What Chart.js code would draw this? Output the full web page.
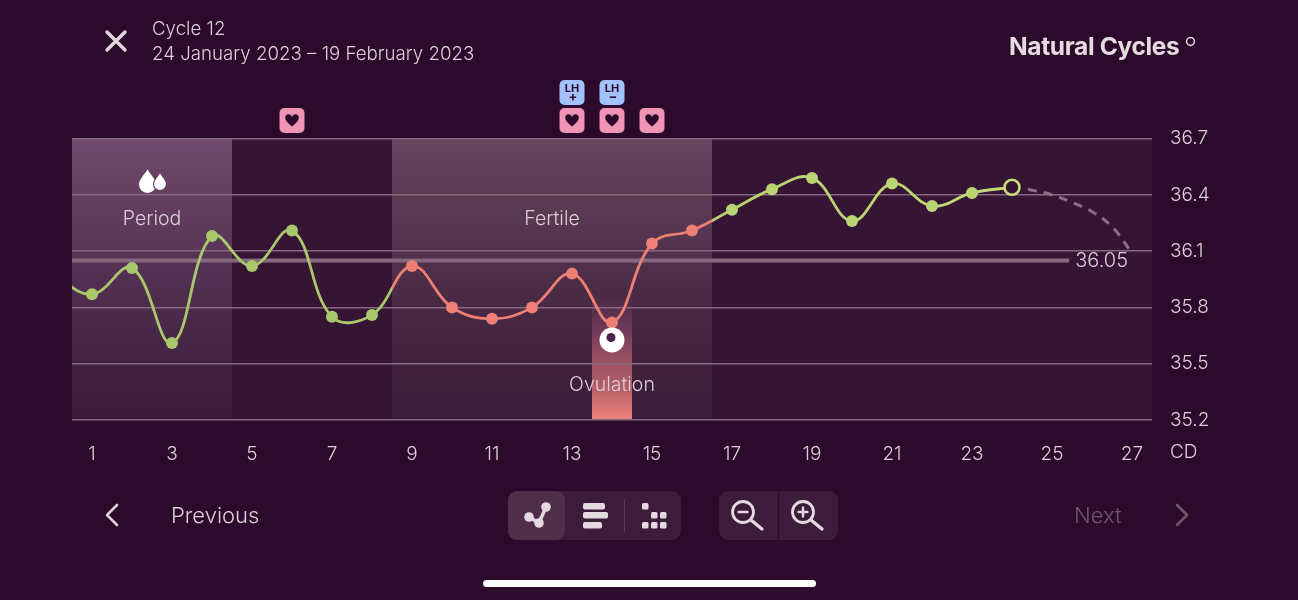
<!DOCTYPE html>
<html>
<head>
<meta charset="utf-8">
<title>Cycle 12</title>
<script src="https://cdn.jsdelivr.net/npm/chart.js@4"></script>
<style>
    html, body { margin: 0; width: 1298px; height: 600px; overflow: hidden; background: #2b0a2b; }
    body { position: relative; font-family: "Inter", sans-serif; font-weight: 300; color: #dccfd6; }
    #temp-chart { position: absolute; left: 0; top: 0; }
    .txt { position: absolute; white-space: nowrap; }
    .panel { position: absolute; background: #3d1c3b; border-radius: 9px; }
    svg { position: absolute; overflow: visible; }
</style>
</head>
<body>
<canvas id="temp-chart" width="1298" height="600"></canvas>

<!-- Header -->
<svg style="left:105px;top:30px" width="22" height="22"><path d="M2 2L20 20M20 2L2 20" stroke="#e4d9df" stroke-width="3.4" stroke-linecap="round"/></svg>
<div class="txt" style="left:152px;top:17px;font-size:18.7px;line-height:24px">Cycle 12</div>
<div class="txt" style="left:152px;top:42px;font-size:18.7px;line-height:24px">24 January 2023 – 19 February 2023</div>
<div class="txt" style="left:1009px;top:32px;font-size:24.5px;line-height:28px;font-weight:700;letter-spacing:-0.35px;color:#e6dce0">Natural Cycles</div>
<svg style="left:1185px;top:36px" width="10" height="10"><circle cx="5.5" cy="5.5" r="3.9" fill="none" stroke="#e6dce0" stroke-width="1.5"/></svg>

<!-- Footer controls -->
<svg style="left:104px;top:503px" width="16" height="24"><path d="M13 2L3 12L13 22" fill="none" stroke="#dccfd6" stroke-width="2.6" stroke-linecap="round" stroke-linejoin="round"/></svg>
<div class="txt" style="left:171px;top:501px;font-size:22px;line-height:28px">Previous</div>

<div class="panel" style="left:508px;top:491px;width:173px;height:49px"></div>
<div class="panel" style="left:508px;top:491px;width:57px;height:49px;background:#4e2e49"></div>
<div class="panel" style="left:624px;top:499px;width:1px;height:33px;border-radius:0;background:#5a3b55"></div>
<svg style="left:508px;top:491px" width="173" height="49">
    <path d="M21 26L31 32L38 16" fill="none" stroke="#e4d9df" stroke-width="3.4"/>
    <circle cx="21" cy="26" r="4.8" fill="#e4d9df"/><circle cx="31" cy="32" r="4.8" fill="#e4d9df"/><circle cx="38" cy="16" r="4.8" fill="#e4d9df"/>
    <rect x="75" y="12" width="22" height="6.5" rx="2" fill="#e4d9df"/><rect x="75" y="21" width="25" height="6.5" rx="2" fill="#e4d9df"/><rect x="75" y="31" width="19" height="6.5" rx="2" fill="#e4d9df"/>
    <rect x="134" y="12" width="6.5" height="6.5" rx="1.5" fill="#e4d9df"/>
    <rect x="143" y="21" width="6.5" height="6.5" rx="1.5" fill="#e4d9df"/><rect x="152" y="21" width="6.5" height="6.5" rx="1.5" fill="#e4d9df"/>
    <rect x="134" y="31" width="6.5" height="6.5" rx="1.5" fill="#e4d9df"/><rect x="143" y="31" width="6.5" height="6.5" rx="1.5" fill="#e4d9df"/><rect x="152" y="31" width="6.5" height="6.5" rx="1.5" fill="#e4d9df"/>
</svg>

<div class="panel" style="left:719px;top:491px;width:119px;height:49px"></div>
<div class="panel" style="left:778px;top:491px;width:1px;height:49px;border-radius:0;background:#2b0a2b"></div>
<svg style="left:719px;top:491px" width="119" height="49">
    <circle cx="24" cy="21" r="10.5" fill="none" stroke="#e4d9df" stroke-width="2.8"/><path d="M32 29L43 38" stroke="#e4d9df" stroke-width="3.4" stroke-linecap="round"/><path d="M19.5 21H28.5" stroke="#e4d9df" stroke-width="2.4" stroke-linecap="round"/>
    <circle cx="84" cy="21" r="10.5" fill="none" stroke="#e4d9df" stroke-width="2.8"/><path d="M92 29L103 38" stroke="#e4d9df" stroke-width="3.4" stroke-linecap="round"/><path d="M79.5 21H88.5M84 16.5V25.5" stroke="#e4d9df" stroke-width="2.4" stroke-linecap="round"/>
</svg>

<div class="txt" style="left:1074px;top:501px;font-size:22px;line-height:28px;color:#6f566c">Next</div>
<svg style="left:1174px;top:503px" width="16" height="24"><path d="M3 2L13 12L3 22" fill="none" stroke="#6f566c" stroke-width="2.6" stroke-linecap="round" stroke-linejoin="round"/></svg>

<div class="panel" style="left:483px;top:580px;width:333px;height:7px;background:#fff;border-radius:4px"></div>

<script>
// Chart data
const days = [0, 1, 2, 3, 4, 5, 6, 7, 8, 9, 10, 11, 12, 13, 14, 15, 16, 17, 18, 19, 20, 21, 22, 23, 24];
const temps = [35.98, 35.87, 36.01, 35.61, 36.18, 36.02, 36.21, 35.75, 35.76, 36.02, 35.80, 35.74, 35.80, 35.98, 35.72, 36.14, 36.21, 36.32, 36.43, 36.49, 36.26, 36.46, 36.34, 36.41, 36.44];
const predictedDays = [24.4, 25, 25.5, 26, 26.5, 27];
const predictedTemps = [36.43, 36.40, 36.36, 36.31, 36.23, 36.09];
const meanTemp = 36.05;
const meanLineDays = [0.5, 25.43];
const xTicks = [1, 3, 5, 7, 9, 11, 13, 15, 17, 19, 21, 23, 25, 27];
const yTicks = [35.2, 35.5, 35.8, 36.1, 36.4, 36.7];
const periodDays = [1, 4];
const fertileDays = [9, 16];
const ovulationDay = 14;
const heartDays = [6, 13, 14, 15];
const lhPlusDay = 13;
const lhMinusDay = 14;

const green = '#a9c76b';
const greenLight = '#c8de7b';
const salmon = '#ee7f74';
const textColor = '#dccfd6';
const labelFont = '300 19.5px Inter, sans-serif';

function isFertile(day) {
    return day >= fertileDays[0] && day <= fertileDays[1];
}

function pointColor(day) {
    if (isFertile(day)) return salmon;
    return day > fertileDays[1] ? '#bbd473' : green;
}

// Line colour changes at the edges of the fertile window
function lineGradient(context) {
    const chart = context.chart;
    if (!chart.chartArea) return green;
    const x = chart.scales.x;
    const span = x.right - x.left;
    const start = (x.getPixelForValue(fertileDays[0] - 0.5) - x.left) / span;
    const end = (x.getPixelForValue(fertileDays[1] + 0.5) - x.left) / span;
    const gradient = chart.ctx.createLinearGradient(x.left, 0, x.right, 0);
    gradient.addColorStop(0, green);
    gradient.addColorStop(start, green);
    gradient.addColorStop(start, salmon);
    gradient.addColorStop(end, salmon);
    gradient.addColorStop(end, '#b4d06f');
    gradient.addColorStop(1, greenLight);
    return gradient;
}

function verticalGradient(ctx, area, stops) {
    const gradient = ctx.createLinearGradient(0, area.top, 0, area.bottom);
    stops.forEach(stop => gradient.addColorStop(stop[0], stop[1]));
    return gradient;
}

function fillDays(chart, fromDay, toDay, style) {
    const x = chart.scales.x;
    const area = chart.chartArea;
    const left = x.getPixelForValue(fromDay - 0.5);
    const right = x.getPixelForValue(toDay + 0.5);
    chart.ctx.fillStyle = style;
    chart.ctx.fillRect(left, area.top, right - left, area.bottom - area.top);
}

// Phase bands sit under the grid lines
const bandsPlugin = {
    id: 'bands',
    beforeDraw(chart) {
        const ctx = chart.ctx;
        const area = chart.chartArea;
        ctx.save();
        fillDays(chart, 1, 27, '#361534');
        fillDays(chart, periodDays[0], periodDays[1], verticalGradient(ctx, area, [[0, '#704a6c'], [0.55, '#4f2d4e'], [1, '#381a38']]));
        fillDays(chart, fertileDays[0], fertileDays[1], verticalGradient(ctx, area, [[0, '#66465e'], [0.55, '#4a2a45'], [1, '#391c38']]));
        fillDays(chart, ovulationDay, ovulationDay, verticalGradient(ctx, area, [[0.55, 'rgba(125,60,105,0)'], [0.75, '#8e4a62'], [0.9, '#bb6269'], [1, '#f0857c']]));
        ctx.restore();
    }
};

function drawBadge(ctx, cx, top, color) {
    ctx.fillStyle = color;
    ctx.beginPath();
    ctx.roundRect(cx - 12.5, top, 25, 25, 5);
    ctx.fill();
}

function drawHeart(ctx, cx, cy) {
    ctx.fillStyle = '#2b0a2b';
    ctx.beginPath();
    ctx.moveTo(cx, cy + 6.5);
    ctx.bezierCurveTo(cx - 4.5, cy + 3, cx - 6.8, cy + 0.5, cx - 6.8, cy - 2.2);
    ctx.bezierCurveTo(cx - 6.8, cy - 6.5, cx - 2, cy - 7, cx, cy - 3.3);
    ctx.bezierCurveTo(cx + 2, cy - 7, cx + 6.8, cy - 6.5, cx + 6.8, cy - 2.2);
    ctx.bezierCurveTo(cx + 6.8, cy + 0.5, cx + 4.5, cy + 3, cx, cy + 6.5);
    ctx.fill();
}

function drawDrop(ctx, cx, bottom, r, outline) {
    ctx.fillStyle = '#ffffff';
    ctx.beginPath();
    ctx.moveTo(cx, bottom - r * 2.8);
    ctx.bezierCurveTo(cx + r * 0.4, bottom - r * 2.1, cx + r, bottom - r * 1.6, cx + r, bottom - r);
    ctx.arc(cx, bottom - r, r, 0, Math.PI);
    ctx.bezierCurveTo(cx - r, bottom - r * 1.6, cx - r * 0.4, bottom - r * 2.1, cx, bottom - r * 2.8);
    if (outline) {
        ctx.strokeStyle = outline;
        ctx.lineWidth = 2;
        ctx.stroke();
    }
    ctx.fill();
}

// Labels and icons tied to days and temperatures
const annotationsPlugin = {
    id: 'annotations',
    afterDraw(chart) {
        const ctx = chart.ctx;
        const x = chart.scales.x;
        const y = chart.scales.y;
        ctx.save();
        ctx.textBaseline = 'middle';
        ctx.textAlign = 'center';
        ctx.font = labelFont;
        ctx.fillStyle = textColor;

        const periodX = x.getPixelForValue((periodDays[0] + periodDays[1]) / 2);
        const fertileX = x.getPixelForValue((fertileDays[0] + fertileDays[1]) / 2);
        const ovulationX = x.getPixelForValue(ovulationDay);
        ctx.fillText('Period', periodX, 219);
        ctx.fillText('Fertile', fertileX, 219);
        ctx.fillText('Ovulation', ovulationX, 385);

        // Mean temperature value and axis name
        ctx.textAlign = 'left';
        ctx.font = '300 20px Inter, sans-serif';
        ctx.fillText(String(meanTemp), x.getPixelForValue(meanLineDays[1]) + 6, y.getPixelForValue(meanTemp) + 1);
        ctx.font = '300 19px Inter, sans-serif';
        ctx.fillText('CD', 1170, 452);

        // Period drops
        drawDrop(ctx, periodX - 4.5, 193, 8.5);
        drawDrop(ctx, periodX + 8, 190, 6, '#5c3958');

        // Ovulation marker
        ctx.fillStyle = '#ffffff';
        ctx.beginPath();
        ctx.arc(ovulationX, 340, 12.5, 0, Math.PI * 2);
        ctx.fill();
        ctx.fillStyle = '#4a2147';
        ctx.beginPath();
        ctx.arc(ovulationX - 1, 337.5, 4.5, 0, Math.PI * 2);
        ctx.fill();

        // Hearts above the plot
        heartDays.forEach(day => {
            const cx = x.getPixelForValue(day);
            drawBadge(ctx, cx, 108, '#ef94b6');
            drawHeart(ctx, cx, 120);
        });

        // LH test badges
        [[lhPlusDay, '+'], [lhMinusDay, '−']].forEach(item => {
            const cx = x.getPixelForValue(item[0]);
            drawBadge(ctx, cx, 80, '#a3c2fb');
            ctx.fillStyle = '#2b0a2b';
            ctx.textAlign = 'center';
            ctx.font = '700 11px Inter, sans-serif';
            ctx.fillText('LH', cx, 88.5);
            ctx.font = '700 13px Inter, sans-serif';
            ctx.fillText(item[1], cx + 1, 97);
        });
        ctx.restore();
    }
};

// Initialize Chart.js
function initializeChart() {
    const ctx = document.getElementById('temp-chart').getContext('2d');

    return new Chart(ctx, {
        type: 'line',
        data: {
            datasets: [
                {
                    label: 'Temperature',
                    data: days.map((day, i) => ({ x: day, y: temps[i] })),
                    order: 1,
                    borderColor: lineGradient,
                    borderWidth: 2.8,
                    tension: 0.4,
                    pointRadius: c => (c.raw.x === 0 ? 0 : c.raw.x === 24 ? 7.5 : 6),
                    pointBorderWidth: c => (c.raw.x === 24 ? 2.6 : 0),
                    pointBorderColor: greenLight,
                    pointBackgroundColor: c => (c.raw.x === 24 ? '#361534' : pointColor(c.raw.x))
                },
                {
                    label: 'Predicted',
                    data: predictedDays.map((day, i) => ({ x: day, y: predictedTemps[i] })),
                    order: 2,
                    borderColor: '#8a6e86',
                    borderWidth: 3,
                    borderDash: [9, 7],
                    tension: 0.4,
                    pointRadius: 0
                },
                {
                    label: 'Mean',
                    data: meanLineDays.map(day => ({ x: day, y: meanTemp })),
                    order: 3,
                    borderColor: '#85697f',
                    borderWidth: 4,
                    pointRadius: 0
                }
            ]
        },
        options: {
            responsive: false,
            animation: false,
            layout: { padding: { left: 72, top: 138.5, right: 0, bottom: 0 } },
            plugins: {
                legend: { display: false },
                tooltip: { enabled: false }
            },
            scales: {
                x: {
                    type: 'linear',
                    min: 0.5,
                    max: 27.5,
                    grid: { display: false },
                    border: { display: false },
                    afterBuildTicks: axis => { axis.ticks = xTicks.map(value => ({ value })); },
                    afterFit: axis => { axis.height = 180; },
                    ticks: {
                        color: textColor,
                        font: { family: 'Inter', size: 19, weight: '300' },
                        padding: 15,
                        autoSkip: false,
                        maxRotation: 0,
                        callback: value => String(value)
                    }
                },
                y: {
                    position: 'right',
                    min: 35.2,
                    max: 36.7,
                    grid: { color: '#85697f', lineWidth: 1.6, drawTicks: false },
                    border: { display: false },
                    afterBuildTicks: axis => { axis.ticks = yTicks.map(value => ({ value })); },
                    afterFit: axis => { axis.width = 146; },
                    ticks: {
                        color: textColor,
                        font: { family: 'Inter', size: 19, weight: '300' },
                        padding: 18,
                        crossAlign: 'near',
                        callback: value => value.toFixed(1)
                    }
                }
            }
        },
        plugins: [bandsPlugin, annotationsPlugin]
    });
}

initializeChart();
</script>
</body>
</html>
